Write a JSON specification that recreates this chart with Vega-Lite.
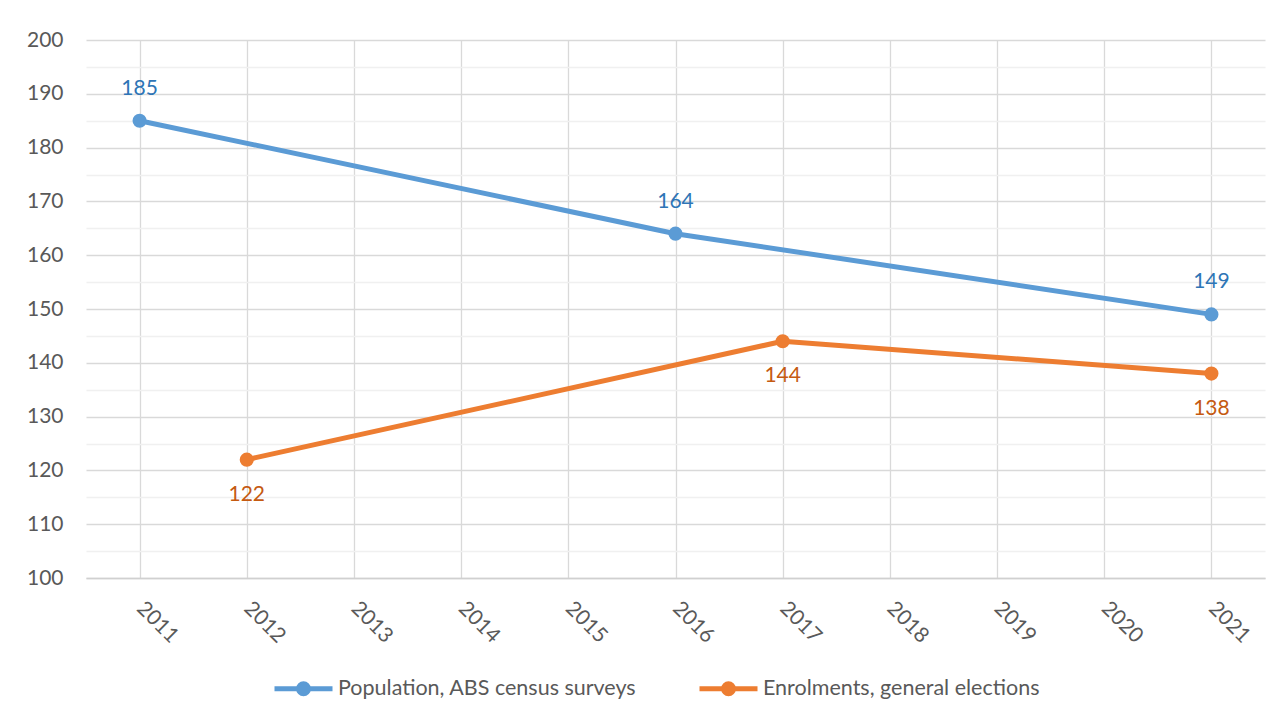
{
  "$schema": "https://vega.github.io/schema/vega-lite/v6.json",
  "width": 1179,
  "height": 538,
  "autosize": {"type": "none"},
  "padding": {"left": 86, "top": 40, "right": 16, "bottom": 142},
  "background": "white",
  "config": {
    "view": {"stroke": null},
    "font": "Lato",
    "axis": {"labelFont": "Lato", "labelColor": "#595959", "labelFontSize": 21, "titleFont": "Lato"},
    "legend": {"labelFont": "Lato"}
  },
  "data": {
    "values": [
      {"year": "2011", "series": "Population, ABS census surveys", "value": 185},
      {"year": "2016", "series": "Population, ABS census surveys", "value": 164},
      {"year": "2021", "series": "Population, ABS census surveys", "value": 149},
      {"year": "2012", "series": "Enrolments, general elections", "value": 122},
      {"year": "2017", "series": "Enrolments, general elections", "value": 144},
      {"year": "2021", "series": "Enrolments, general elections", "value": 138}
    ]
  },
  "layer": [
    {
      "mark": {"type": "line", "strokeWidth": 5, "strokeCap": "round", "strokeJoin": "round"},
      "encoding": {
        "x": {
          "field": "year", "type": "ordinal",
          "scale": {"type": "point", "padding": 0.5, "domain": ["2011","2012","2013","2014","2015","2016","2017","2018","2019","2020","2021"]},
          "axis": {"title": null, "grid": true, "gridColor": "#d9d9d9", "gridWidth": 1.3, "ticks": false, "domain": true, "domainColor": "#d0d0d0", "domainWidth": 1.5, "labelAngle": 45, "labelAlign": "left", "labelBaseline": "middle", "labelPadding": 27}
        },
        "y": {
          "field": "value", "type": "quantitative",
          "scale": {"domain": [100, 200], "nice": false, "zero": false},
          "axis": {"title": null, "values": [100,110,120,130,140,150,160,170,180,190,200], "grid": true, "gridColor": "#d9d9d9", "gridWidth": 1.3, "ticks": false, "domain": false, "labelPadding": 23}
        },
        "color": {
          "field": "series", "type": "nominal",
          "scale": {"domain": ["Population, ABS census surveys", "Enrolments, general elections"], "range": ["#5B9BD5", "#ED7D31"]},
          "legend": {
            "title": null,
            "orient": "none",
            "legendX": 186,
            "legendY": 617,
            "direction": "horizontal",
            "symbolType": "M-1,0H1M0.17,0A0.17,0.17,0,1,1,-0.17,0A0.17,0.17,0,1,1,0.17,0",
            "symbolSize": 3364,
            "symbolStrokeWidth": 4.5,
            "labelFontSize": 21.5,
            "labelLimit": 500,
            "labelColor": "#595959",
            "labelOffset": 3,
            "columnPadding": 52,
            "encode": {
              "symbols": {"update": {"fill": {"scale": "color", "field": "value"}, "stroke": {"scale": "color", "field": "value"}, "strokeWidth": {"value": 5}, "opacity": {"value": 1}}}
            }
          }
        }
      }
    },
    {
      "mark": {"type": "point", "filled": true, "size": 200, "opacity": 1},
      "encoding": {
        "x": {"field": "year", "type": "ordinal"},
        "y": {
          "field": "value", "type": "quantitative",
          "axis": {"title": null, "values": [105,115,125,135,145,155,165,175,185,195], "grid": true, "gridColor": "#f0f0f0", "gridWidth": 1.3, "ticks": false, "domain": false, "labels": false, "orient": "left"}
        },
        "color": {"field": "series", "type": "nominal", "legend": null}
      }
    },
    {
      "transform": [{"filter": "datum.series == 'Population, ABS census surveys'"}],
      "mark": {"type": "text", "dy": -32, "fontSize": 21, "color": "#2E75B6", "baseline": "middle", "align": "center"},
      "encoding": {
        "x": {"field": "year", "type": "ordinal"},
        "y": {"field": "value", "type": "quantitative", "axis": null},
        "text": {"field": "value", "type": "quantitative"}
      }
    },
    {
      "transform": [{"filter": "datum.series == 'Enrolments, general elections'"}],
      "mark": {"type": "text", "dy": 35, "fontSize": 21, "color": "#C55A11", "baseline": "middle", "align": "center"},
      "encoding": {
        "x": {"field": "year", "type": "ordinal"},
        "y": {"field": "value", "type": "quantitative", "axis": null},
        "text": {"field": "value", "type": "quantitative"}
      }
    }
  ],
  "resolve": {"axis": {"y": "independent"}}
}
